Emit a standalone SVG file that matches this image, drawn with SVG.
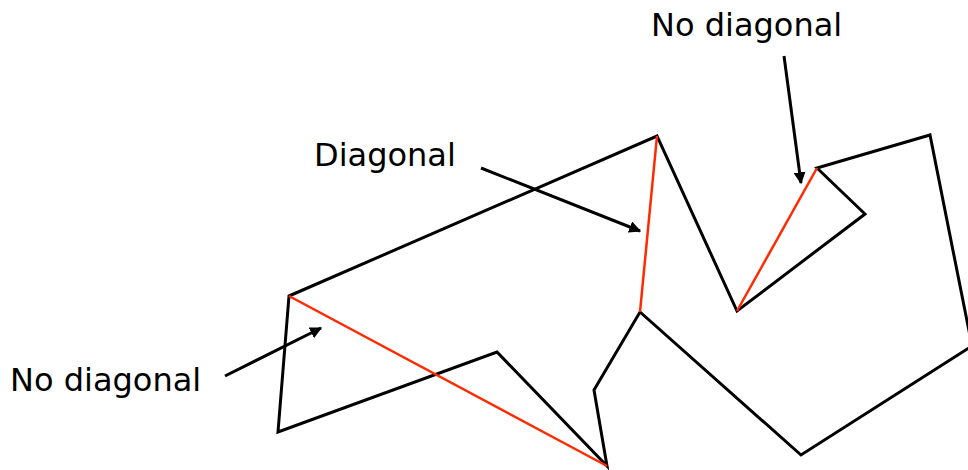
<svg xmlns="http://www.w3.org/2000/svg" width="968" height="470" viewBox="0 0 968 470">
<defs>
<style>
.lbl{font-family:"DejaVu Sans",Verdana,sans-serif;font-size:32px;fill:#000}
.edge{fill:none;stroke:#000;stroke-width:3;stroke-linejoin:miter}
.diag{stroke:#ff2a00;stroke-width:2.5;fill:none}
.arr{stroke:#000;stroke-width:3;fill:none}
</style>
<marker id="ah" viewBox="0 0 10 10" refX="9" refY="5" markerWidth="4" markerHeight="4" orient="auto" markerUnits="strokeWidth">
<path d="M0,0 L10,5 L0,10 z" fill="#000"/>
</marker>
</defs>
<g id="polygon">
<polygon class="edge" points="289,296 657,136 737,311 865,214 817,168 930,135 972,346 801,455 640,312 594,390 607,466 497,352 278,432"/>
</g>
<g id="diagonals">
<line class="diag" x1="289" y1="296" x2="607" y2="466"/>
<line class="diag" x1="657" y1="136" x2="640" y2="312"/>
<line class="diag" x1="817" y1="168" x2="737" y2="311"/>
</g>
<g id="label-top">
<text class="lbl" x="651" y="36">No diagonal</text>
</g>
<g id="label-diagonal">
<text class="lbl" x="314" y="166">Diagonal</text>
</g>
<g id="label-left">
<text class="lbl" x="10" y="391">No diagonal</text>
</g>
<g id="connectors">
<line class="arr" x1="784" y1="56" x2="801" y2="183" marker-end="url(#ah)"/>
<line class="arr" x1="481" y1="168" x2="640" y2="231" marker-end="url(#ah)"/>
<line class="arr" x1="225" y1="376" x2="321" y2="328" marker-end="url(#ah)"/>
</g>
</svg>
